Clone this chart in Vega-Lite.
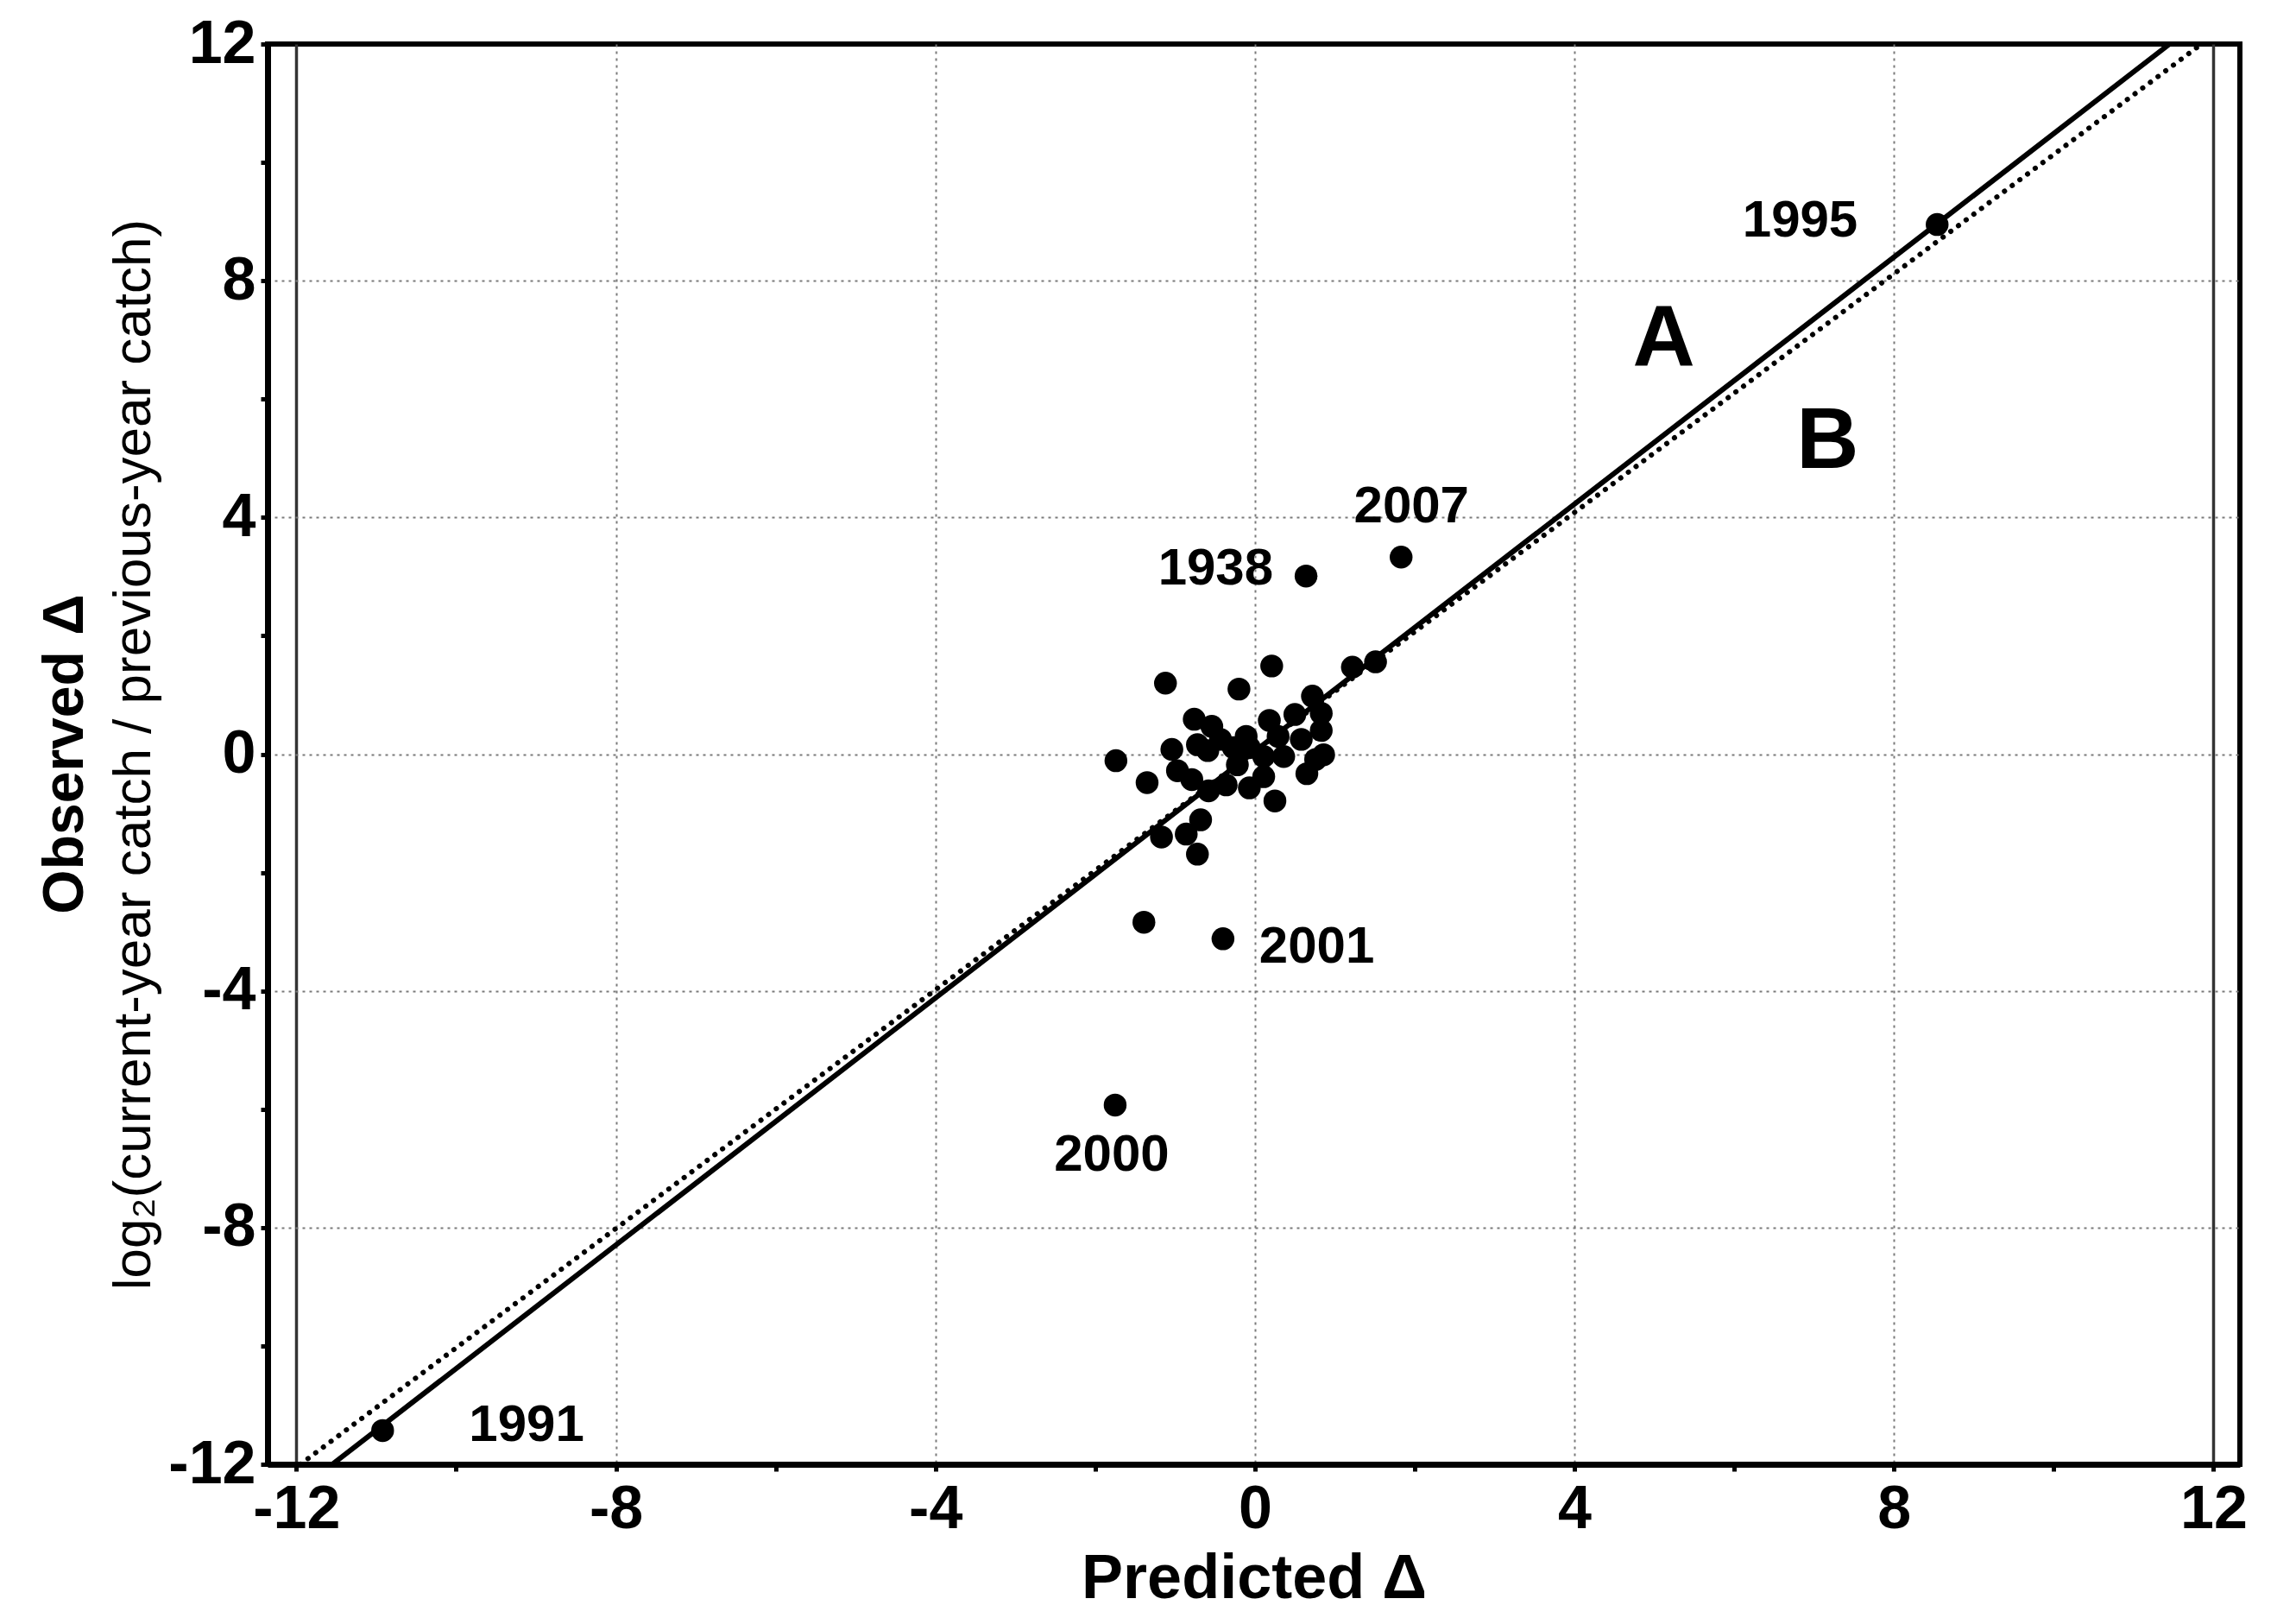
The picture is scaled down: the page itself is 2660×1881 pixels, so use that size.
{
  "$schema": "https://vega.github.io/schema/vega-lite/v6.json",
  "width": 2285,
  "height": 1645,
  "autosize": {"type": "none"},
  "padding": {"left": 310, "top": 51, "right": 65, "bottom": 185},
  "background": "white",
  "config": {
    "font": "Liberation Sans",
    "view": {"stroke": "black", "strokeWidth": 6}
  },
  "title": {
    "text": "Observed Δ",
    "orient": "left",
    "anchor": "middle",
    "fontSize": 66,
    "fontWeight": "bold",
    "font": "Liberation Sans",
    "color": "black",
    "offset": 14
  },
  "datasets": {
    "pts": [
      {"x": 8.54, "y": 8.95, "year": "1995"},
      {"x": 1.83, "y": 3.33, "year": "2007"},
      {"x": 0.64, "y": 3.01, "year": "1938"},
      {"x": -0.40, "y": -3.12, "year": "2001"},
      {"x": -1.75, "y": -5.93, "year": "2000"},
      {"x": -10.92, "y": -11.43, "year": "1991"},
      {"x": -1.39, "y": -2.84, "year": ""},
      {"x": -1.12, "y": 1.20, "year": ""},
      {"x": -0.20, "y": 1.10, "year": ""},
      {"x": 0.21, "y": 1.49, "year": ""},
      {"x": -1.74, "y": -0.11, "year": ""},
      {"x": -1.35, "y": -0.48, "year": ""},
      {"x": -0.76, "y": 0.59, "year": ""},
      {"x": -1.04, "y": 0.08, "year": ""},
      {"x": -0.54, "y": 0.47, "year": ""},
      {"x": -0.59, "y": 0.06, "year": ""},
      {"x": -0.11, "y": 0.30, "year": ""},
      {"x": -0.27, "y": 0.11, "year": ""},
      {"x": -0.97, "y": -0.28, "year": ""},
      {"x": -0.79, "y": -0.43, "year": ""},
      {"x": -0.58, "y": -0.62, "year": ""},
      {"x": -0.36, "y": -0.52, "year": ""},
      {"x": -0.07, "y": -0.57, "year": ""},
      {"x": 0.11, "y": -0.38, "year": ""},
      {"x": 0.25, "y": -0.79, "year": ""},
      {"x": 0.18, "y": 0.57, "year": ""},
      {"x": 0.50, "y": 0.67, "year": ""},
      {"x": 0.72, "y": 0.98, "year": ""},
      {"x": 0.83, "y": 0.69, "year": ""},
      {"x": 0.83, "y": 0.40, "year": ""},
      {"x": 0.86, "y": -0.01, "year": ""},
      {"x": 0.65, "y": -0.33, "year": ""},
      {"x": 0.36, "y": -0.04, "year": ""},
      {"x": 0.11, "y": -0.04, "year": ""},
      {"x": -0.22, "y": -0.18, "year": ""},
      {"x": 1.22, "y": 1.47, "year": ""},
      {"x": 1.51, "y": 1.56, "year": ""},
      {"x": -0.68, "y": -1.11, "year": ""},
      {"x": -0.86, "y": -1.35, "year": ""},
      {"x": -0.72, "y": -1.69, "year": ""},
      {"x": -1.17, "y": -1.40, "year": ""},
      {"x": -0.72, "y": 0.16, "year": ""},
      {"x": -0.43, "y": 0.25, "year": ""},
      {"x": -0.07, "y": 0.11, "year": ""},
      {"x": 0.58, "y": 0.25, "year": ""},
      {"x": 0.76, "y": -0.09, "year": ""},
      {"x": 0.29, "y": 0.30, "year": ""}
    ],
    "fits": [
      {"line": "A", "x": -11.55, "y": -12},
      {"line": "A", "x": 11.45, "y": 12},
      {"line": "B", "x": -11.95, "y": -12},
      {"line": "B", "x": 11.85, "y": 12}
    ],
    "letters": [
      {"x": 5.12, "y": 6.99, "name": "A"},
      {"x": 7.17, "y": 5.28, "name": "B"}
    ]
  },
  "encoding": {
    "x": {
      "field": "x",
      "type": "quantitative",
      "scale": {"domain": [-12.36, 12.33], "nice": false, "zero": false},
      "axis": {
        "title": "Predicted Δ",
        "titleFontSize": 72,
        "titleFontWeight": "bold",
        "titleColor": "black",
        "titlePadding": 10,
        "values": [-12, -10, -8, -6, -4, -2, 0, 2, 4, 6, 8, 10, 12],
        "labelExpr": "datum.value % 4 == 0 ? '' + datum.value : ''",
        "labelFontSize": 70,
        "labelFontWeight": "bold",
        "labelColor": "black",
        "labelPadding": 10,
        "domainColor": "black",
        "domainWidth": 7,
        "tickColor": "black",
        "tickWidth": 5,
        "tickSize": 8,
        "grid": true,
        "gridColor": {"condition": {"test": "abs(datum.value) == 12", "value": "#333333"}, "value": "#7a7a7a"},
        "gridDash": {"condition": {"test": "abs(datum.value) == 12", "value": []}, "value": [3, 5]},
        "gridWidth": {"condition": {"test": "abs(datum.value) == 12", "value": 3.5}, "value": 2},
        "gridOpacity": {"condition": {"test": "datum.value % 4 != 0", "value": 0}, "value": 1}
      }
    },
    "y": {
      "field": "y",
      "type": "quantitative",
      "scale": {"domain": [-12, 12], "nice": false, "zero": false},
      "axis": {
        "title": "log₂(current-year catch / previous-year catch)",
        "titleFontSize": 62,
        "titleFontWeight": "normal",
        "titleColor": "black",
        "titlePadding": 8,
        "values": [-12, -10, -8, -6, -4, -2, 0, 2, 4, 6, 8, 10, 12],
        "labelExpr": "datum.value % 4 == 0 ? '' + datum.value : ''",
        "labelFontSize": 70,
        "labelFontWeight": "bold",
        "labelColor": "black",
        "labelPadding": 6,
        "domainColor": "black",
        "domainWidth": 7,
        "tickColor": "black",
        "tickWidth": 5,
        "tickSize": 8,
        "grid": true,
        "gridColor": "#7a7a7a",
        "gridDash": [3, 5],
        "gridWidth": 2,
        "gridOpacity": {"condition": {"test": "datum.value % 4 != 0 || abs(datum.value) == 12", "value": 0}, "value": 1}
      }
    }
  },
  "layer": [
    {
      "data": {"name": "fits"},
      "transform": [{"filter": "datum.line == 'B'"}],
      "mark": {"type": "line", "color": "black", "strokeWidth": 6, "strokeDash": [0.1, 11], "strokeCap": "round", "clip": true},
      "encoding": {}
    },
    {
      "data": {"name": "fits"},
      "transform": [{"filter": "datum.line == 'A'"}],
      "mark": {"type": "line", "color": "black", "strokeWidth": 6, "clip": true},
      "encoding": {}
    },
    {
      "data": {"name": "pts"},
      "mark": {"type": "point", "filled": true, "color": "black", "opacity": 1, "size": 700},
      "encoding": {}
    },
    {
      "data": {"name": "pts"},
      "transform": [{"filter": "datum.year == '1995'"}],
      "mark": {"type": "text", "align": "right", "baseline": "middle", "dx": -92, "dy": -4, "fontSize": 60, "fontWeight": "bold", "color": "black"},
      "encoding": {"text": {"field": "year"}}
    },
    {
      "data": {"name": "pts"},
      "transform": [{"filter": "datum.year == '1938'"}],
      "mark": {"type": "text", "align": "right", "baseline": "middle", "dx": -38, "dy": -8, "fontSize": 60, "fontWeight": "bold", "color": "black"},
      "encoding": {"text": {"field": "year"}}
    },
    {
      "data": {"name": "pts"},
      "transform": [{"filter": "datum.year == '2007'"}],
      "mark": {"type": "text", "align": "center", "baseline": "middle", "dx": 12, "dy": -58, "fontSize": 60, "fontWeight": "bold", "color": "black"},
      "encoding": {"text": {"field": "year"}}
    },
    {
      "data": {"name": "pts"},
      "transform": [{"filter": "datum.year == '2001'"}],
      "mark": {"type": "text", "align": "left", "baseline": "middle", "dx": 42, "dy": 10, "fontSize": 60, "fontWeight": "bold", "color": "black"},
      "encoding": {"text": {"field": "year"}}
    },
    {
      "data": {"name": "pts"},
      "transform": [{"filter": "datum.year == '2000'"}],
      "mark": {"type": "text", "align": "center", "baseline": "middle", "dx": -4, "dy": 58, "fontSize": 60, "fontWeight": "bold", "color": "black"},
      "encoding": {"text": {"field": "year"}}
    },
    {
      "data": {"name": "pts"},
      "transform": [{"filter": "datum.year == '1991'"}],
      "mark": {"type": "text", "align": "left", "baseline": "middle", "dx": 100, "dy": -6, "fontSize": 60, "fontWeight": "bold", "color": "black"},
      "encoding": {"text": {"field": "year"}}
    },
    {
      "data": {"name": "letters"},
      "mark": {"type": "text", "align": "center", "baseline": "middle", "fontSize": 100, "fontWeight": "bold", "color": "black"},
      "encoding": {"text": {"field": "name"}}
    }
  ]
}
